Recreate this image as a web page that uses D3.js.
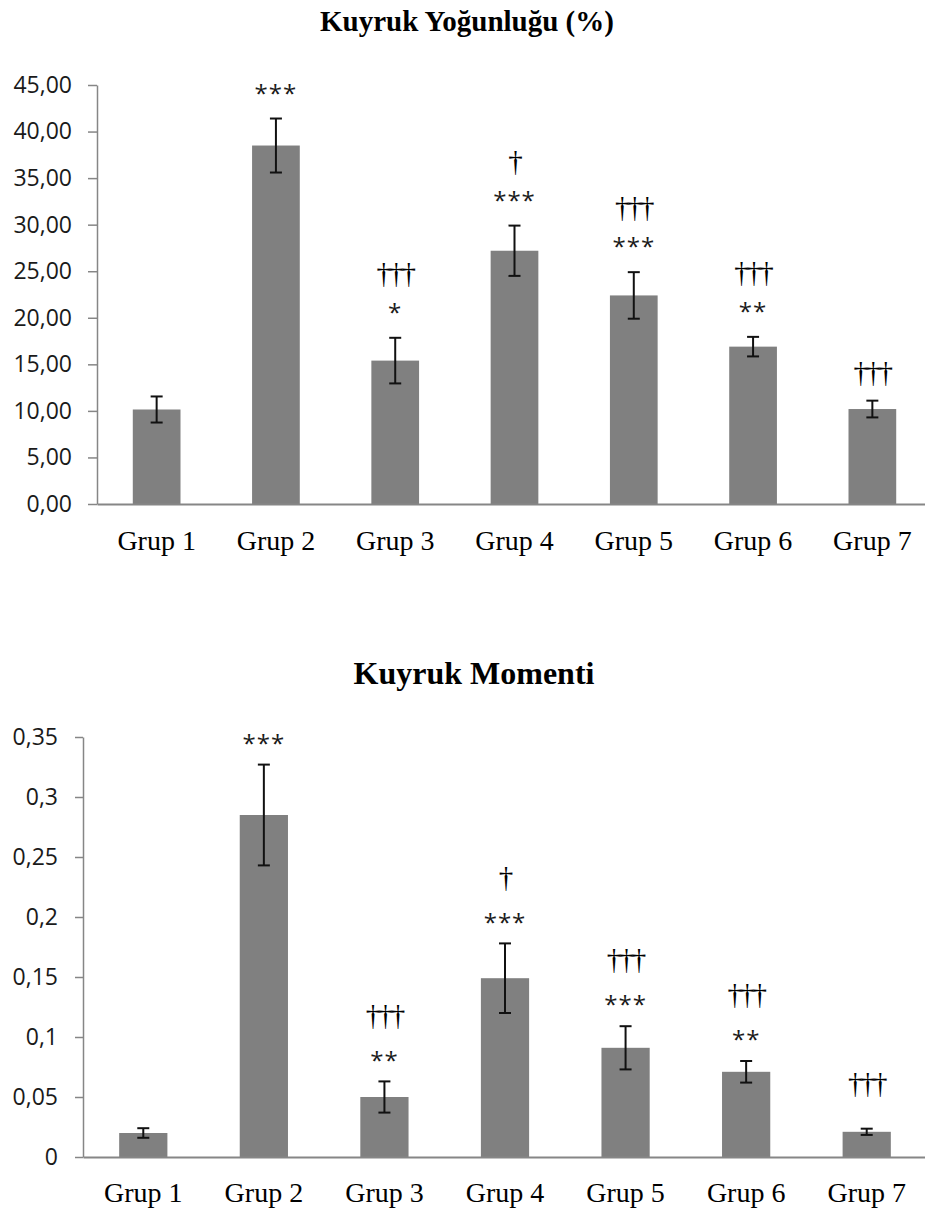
<!DOCTYPE html>
<html>
<head>
<meta charset="utf-8">
<script src="https://cdn.jsdelivr.net/npm/d3@7"></script>
<style>
    body { margin: 0; background: #fff; }
    svg { display: block; }
</style>
</head>
<body>
<div id="chart"></div>
<script>
// Data
const groups = ["Grup 1", "Grup 2", "Grup 3", "Grup 4", "Grup 5", "Grup 6", "Grup 7"];

const densityMeans = [10.15, 38.5, 15.4, 27.2, 22.4, 16.9, 10.2];
const densityErrors = [1.4, 2.9, 2.45, 2.7, 2.5, 1.05, 0.9];
const densityStars = ["", "***", "*", "***", "***", "**", ""];
const densityDaggers = ["", "", "†††", "†", "†††", "†††", "†††"];
const densityTicks = [0, 5, 10, 15, 20, 25, 30, 35, 40, 45];

const momentMeans = [0.020, 0.285, 0.050, 0.149, 0.091, 0.071, 0.021];
const momentErrors = [0.004, 0.042, 0.013, 0.029, 0.018, 0.009, 0.0026];
const momentStars = ["", "***", "**", "***", "***", "**", ""];
const momentDaggers = ["", "", "†††", "†", "†††", "†††", "†††"];
const momentTicks = [0, 0.05, 0.1, 0.15, 0.2, 0.25, 0.3, 0.35];

// Style constants
const width = 925;
const height = 1213;
const COLORS = {
    bar: "#808080",
    axis: "#868686",
    text: "#1a1a1a",
    error: "#111"
};
const SANS = "'Open Sans', 'DejaVu Sans', sans-serif";
const SERIF = "'Liberation Serif', 'Times New Roman', serif";

const svg = d3.select("#chart")
    .append("svg")
    .attr("width", width)
    .attr("height", height);

svg.append("rect").attr("width", width).attr("height", height).attr("fill", "#fff");

function drawChart(cfg) {
    const g = svg.append("g");

    const x = d3.scaleBand()
        .domain(groups)
        .range([cfg.left, cfg.right])
        .paddingInner(0.6)
        .paddingOuter(0.3);

    const y = d3.scaleLinear()
        .domain([0, cfg.max])
        .range([cfg.bottom, cfg.top]);

    // Title
    g.append("text")
        .attr("x", cfg.titleX)
        .attr("y", cfg.titleY)
        .attr("text-anchor", "middle")
        .style("font-family", SERIF)
        .style("font-weight", "bold")
        .style("font-size", cfg.titleSize + "px")
        .attr("fill", "#000")
        .text(cfg.title);

    // Bars
    g.selectAll("rect.bar")
        .data(cfg.means)
        .enter()
        .append("rect")
        .attr("class", "bar")
        .attr("x", (d, i) => x(groups[i]))
        .attr("y", d => y(d))
        .attr("width", x.bandwidth())
        .attr("height", d => y(0) - y(d))
        .attr("fill", COLORS.bar);

    // Y axis
    const yAxis = g.append("g")
        .attr("transform", `translate(${cfg.left},0)`)
        .call(d3.axisLeft(y)
            .tickValues(cfg.ticks)
            .tickFormat(cfg.format)
            .tickSize(cfg.tickSize)
            .tickSizeOuter(0)
            .tickPadding(cfg.tickPadding));
    yAxis.select(".domain").attr("stroke", COLORS.axis).attr("stroke-width", 1.5);
    yAxis.selectAll(".tick line").attr("stroke", COLORS.axis).attr("stroke-width", 1.5);
    yAxis.selectAll(".tick text")
        .style("font-family", SANS)
        .style("font-size", "23px")
        .attr("fill", COLORS.text);

    // X axis
    const xAxis = g.append("g")
        .attr("transform", `translate(0,${cfg.bottom})`)
        .call(d3.axisBottom(x).tickSize(0).tickSizeOuter(0).tickPadding(cfg.xPadding));
    xAxis.select(".domain").attr("stroke", COLORS.axis).attr("stroke-width", 2);
    xAxis.selectAll(".tick text")
        .style("font-family", SERIF)
        .style("font-size", "28px")
        .attr("fill", "#000");

    // Error bars
    const cap = 6;
    cfg.means.forEach((m, i) => {
        const cx = x(groups[i]) + x.bandwidth() / 2;
        const hi = y(m + cfg.errors[i]);
        const lo = y(m - cfg.errors[i]);
        const eg = g.append("g")
            .attr("stroke", COLORS.error)
            .attr("stroke-width", 2);
        eg.append("line").attr("x1", cx).attr("x2", cx).attr("y1", hi).attr("y2", lo);
        eg.append("line").attr("x1", cx - cap).attr("x2", cx + cap).attr("y1", hi).attr("y2", hi);
        eg.append("line").attr("x1", cx - cap).attr("x2", cx + cap).attr("y1", lo).attr("y2", lo);

        // significance marks
        let level = hi - cfg.daggerOnlyGap;
        if (cfg.stars[i]) {
            level = hi - cfg.starGap;
            g.append("text")
                .attr("x", cx)
                .attr("y", level)
                .attr("dy", "0.55em")
                .attr("text-anchor", "middle")
                .style("font-family", SANS)
                .style("font-size", "24px")
                .style("letter-spacing", "1px")
                .attr("fill", COLORS.text)
                .text(cfg.stars[i]);
            level -= cfg.daggerGap;
        }
        if (cfg.daggers[i]) {
            g.append("text")
                .attr("x", cx)
                .attr("y", level)
                .attr("dy", "0.35em")
                .attr("text-anchor", "middle")
                .style("font-family", SERIF)
                .style("font-size", "29px")
                .style("letter-spacing", "-2px")
                .attr("fill", "#000")
                .text(cfg.daggers[i]);
        }
    });
}

const commaFixed = d => d.toFixed(2).replace(".", ",");
const commaPlain = d => String(d).replace(".", ",");

drawChart({
    title: "Kuyruk Yoğunluğu (%)",
    titleX: 467, titleY: 31, titleSize: 29,
    left: 97, right: 932, top: 85, bottom: 504,
    max: 45, ticks: densityTicks, format: commaFixed,
    tickSize: 9, tickPadding: 16, xPadding: 26,
    means: densityMeans, errors: densityErrors,
    stars: densityStars, daggers: densityDaggers,
    starGap: 30, daggerGap: 35, daggerOnlyGap: 29
});

drawChart({
    title: "Kuyruk Momenti",
    titleX: 474, titleY: 684, titleSize: 32,
    left: 83, right: 927, top: 737, bottom: 1157,
    max: 0.35, ticks: momentTicks, format: commaPlain,
    tickSize: 8, tickPadding: 17, xPadding: 25,
    means: momentMeans, errors: momentErrors,
    stars: momentStars, daggers: momentDaggers,
    starGap: 26, daggerGap: 41, daggerOnlyGap: 46
});
</script>
</body>
</html>
